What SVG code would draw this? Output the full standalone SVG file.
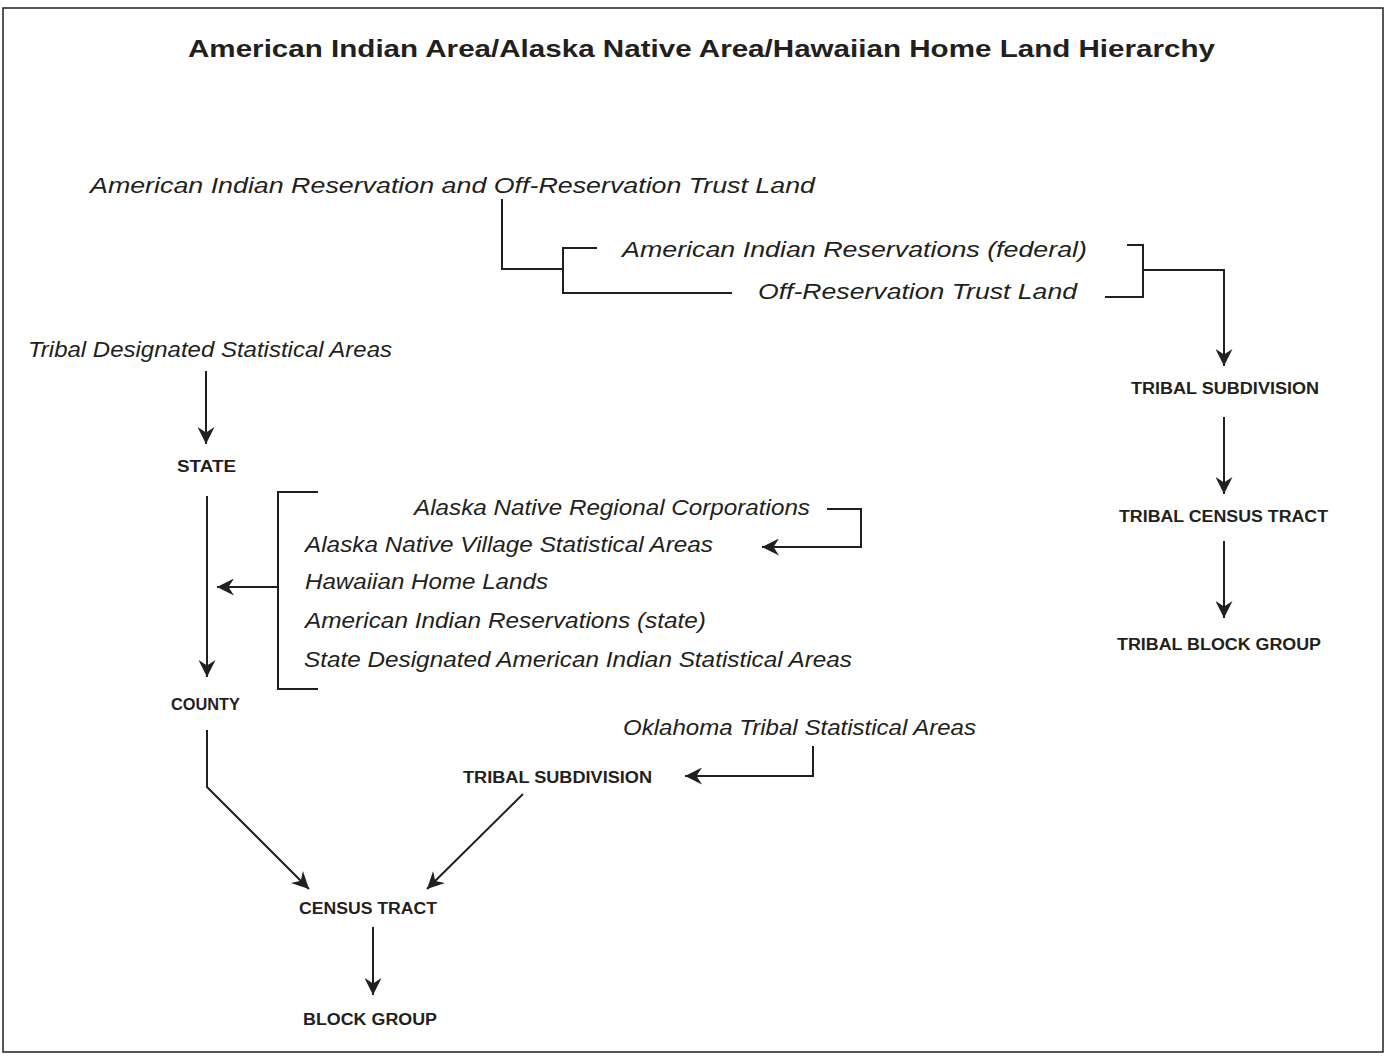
<svg xmlns="http://www.w3.org/2000/svg" width="1387" height="1057" viewBox="0 0 1387 1057">
<style>
.it{font-family:"Liberation Sans",Arial,sans-serif;font-style:italic;font-size:22.5px;fill:#231f20}
.lb{font-family:"Liberation Sans",Arial,sans-serif;font-weight:bold;font-size:16px;fill:#231f20}
.tt{font-family:"Liberation Sans",Arial,sans-serif;font-weight:bold;font-size:24.5px;fill:#231f20}
.ln{fill:none;stroke:#231f20;stroke-width:2}
.ar{marker-end:url(#ah)}
</style>
<defs>
<marker id="ah" viewBox="0 0 17 17" refX="17" refY="8.5" markerWidth="17" markerHeight="17" markerUnits="userSpaceOnUse" orient="auto">
<path d="M0,0 L17,8.5 L0,17 L5.5,8.5 Z" fill="#231f20"/>
</marker>
</defs>
<rect x="3" y="8" width="1380" height="1044" fill="#fff" stroke="#231f20" stroke-width="1.5"/>
<g id="title"><text class="tt" x="188" y="57" textLength="1027" lengthAdjust="spacingAndGlyphs">American Indian Area/Alaska Native Area/Hawaiian Home Land Hierarchy</text></g>

<g id="connectors">
<path class="ln" d="M502,199 V269 H563"/>
<path class="ln" d="M597,248 H563 V293 H732"/>
<path class="ln" d="M1127,245 H1143 V297 H1105"/>
<path class="ln ar" d="M1143,270 H1224 V366"/>
<path class="ln ar" d="M1224,417 V494"/>
<path class="ln ar" d="M1224,541 V618"/>
<path class="ln ar" d="M206,371 V444"/>
<path class="ln ar" d="M207,496 V677"/>
<path class="ln" d="M318,492 H278 V689 H318"/>
<path class="ln ar" d="M278,587 H217"/>
<path class="ln ar" d="M827,509 H861 V547 H762"/>
<path class="ln ar" d="M813,746 V776 H685"/>
<path class="ln ar" d="M207,730 V787 L309,889"/>
<path class="ln ar" d="M523,794 L427,889"/>
<path class="ln ar" d="M373,927 V995"/>
</g>

<g id="n-airotl"><text class="it" x="90" y="193" textLength="725" lengthAdjust="spacingAndGlyphs">American Indian Reservation and Off-Reservation Trust Land</text></g>
<g id="n-air-federal"><text class="it" x="622" y="257" textLength="465" lengthAdjust="spacingAndGlyphs">American Indian Reservations (federal)</text></g>
<g id="n-otl"><text class="it" x="758" y="299" textLength="319" lengthAdjust="spacingAndGlyphs">Off-Reservation Trust Land</text></g>
<g id="n-tdsa"><text class="it" x="28" y="357" textLength="364" lengthAdjust="spacingAndGlyphs">Tribal Designated Statistical Areas</text></g>
<g id="n-anrc"><text class="it" x="414" y="515" textLength="396" lengthAdjust="spacingAndGlyphs">Alaska Native Regional Corporations</text></g>
<g id="n-anvsa"><text class="it" x="305" y="552" textLength="408" lengthAdjust="spacingAndGlyphs">Alaska Native Village Statistical Areas</text></g>
<g id="n-hhl"><text class="it" x="305" y="589" textLength="243" lengthAdjust="spacingAndGlyphs">Hawaiian Home Lands</text></g>
<g id="n-air-state"><text class="it" x="305" y="628" textLength="401" lengthAdjust="spacingAndGlyphs">American Indian Reservations (state)</text></g>
<g id="n-sdaisa"><text class="it" x="304" y="667" textLength="548" lengthAdjust="spacingAndGlyphs">State Designated American Indian Statistical Areas</text></g>
<g id="n-otsa"><text class="it" x="623" y="735" textLength="353" lengthAdjust="spacingAndGlyphs">Oklahoma Tribal Statistical Areas</text></g>

<g id="n-state"><text class="lb" x="177" y="472" textLength="59" lengthAdjust="spacingAndGlyphs">STATE</text></g>
<g id="n-county"><text class="lb" x="171" y="710" textLength="69" lengthAdjust="spacingAndGlyphs">COUNTY</text></g>
<g id="n-tribal-sub-left"><text class="lb" x="463" y="783" textLength="189" lengthAdjust="spacingAndGlyphs">TRIBAL SUBDIVISION</text></g>
<g id="n-census-tract"><text class="lb" x="299" y="914" textLength="138" lengthAdjust="spacingAndGlyphs">CENSUS TRACT</text></g>
<g id="n-block-group"><text class="lb" x="303" y="1025" textLength="134" lengthAdjust="spacingAndGlyphs">BLOCK GROUP</text></g>
<g id="n-tribal-sub-right"><text class="lb" x="1131" y="394" textLength="188" lengthAdjust="spacingAndGlyphs">TRIBAL SUBDIVISION</text></g>
<g id="n-tribal-census-tract"><text class="lb" x="1119" y="522" textLength="209" lengthAdjust="spacingAndGlyphs">TRIBAL CENSUS TRACT</text></g>
<g id="n-tribal-block-group"><text class="lb" x="1117" y="650" textLength="204" lengthAdjust="spacingAndGlyphs">TRIBAL BLOCK GROUP</text></g>
</svg>
